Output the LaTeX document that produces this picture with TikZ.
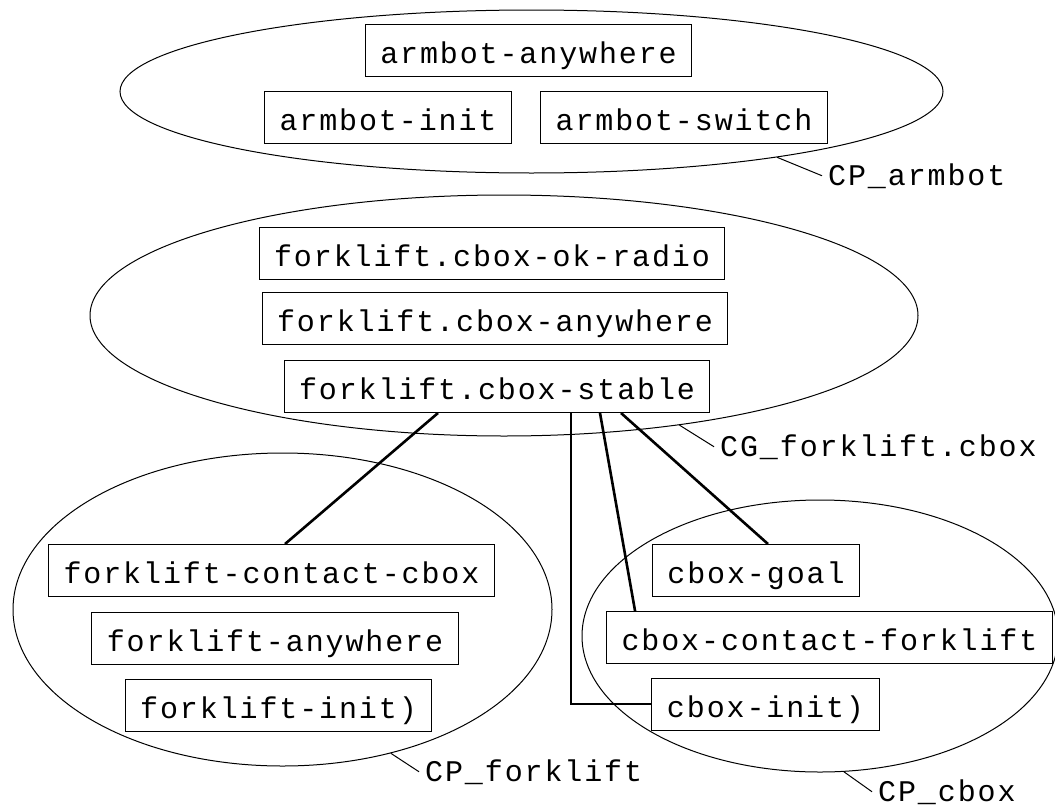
\documentclass[tikz,border=0pt]{standalone}
\usepackage{fontspec}
\usetikzlibrary{shapes.geometric}
\newfontfamily\boxfont[LetterSpace=6.3]{Liberation Mono}

\begin{document}
\begin{tikzpicture}[x=1pt, y=-1pt]
\tikzset{ state/.style={draw, line width=1pt, inner xsep=15pt, inner ysep=0pt,
            minimum height=52pt, text height=26pt, text depth=0pt,
            font=\boxfont\fontsize{30}{36}\selectfont},
          group/.style={draw, ellipse, line width=1pt, inner sep=0pt},
          tag/.style={anchor=base west, inner xsep=6pt, inner ysep=0pt,
            font=\boxfont\fontsize{30}{36}\selectfont},
          link/.style={line width=2.6pt},
          lead/.style={line width=1pt}, }

\useasboundingbox (0,0) rectangle (1055,806);
%\draw [lightgray, dashed] (0,0) grid [step=50] (1055,806);

\node [group, minimum width=823pt, minimum height=163pt] (EA) at (531.5,91.5)  {};
\node [group, minimum width=828pt, minimum height=241pt] (EG) at (504,315.5)   {};
\node [group, minimum width=539pt, minimum height=313pt] (EF) at (282.5,609.5) {};
\node [group, minimum width=476pt, minimum height=272pt] (EC) at (820,636)     {};

\node [state] (AA) at (528.5,50)  {armbot-anywhere};
\node [state] (AI) at (388,117)   {armbot-init};
\node [state] (AS) at (684,117)   {armbot-switch};

\node [state] (OK) at (492,253)   {forklift.cbox-ok-radio};
\node [state] (AW) at (495,318.5) {forklift.cbox-anywhere};
\node [state] (ST) at (497,386.5) {forklift.cbox-stable};

\node [state] (FC) at (271.5,570.5) {forklift-contact-cbox};
\node [state] (FA) at (275,638.5)   {forklift-anywhere};
\node [state] (FI) at (278.5,705.5) {forklift-init)};

\node [state] (GO) at (756,570.5)   {cbox-goal};
\node [state] (CC) at (829.5,637.5) {cbox-contact-forklift};
\node [state] (CI) at (765.5,704)   {cbox-init)};

\node [tag] (LA) at (822,185) {CP\_armbot};
\node [tag] (LG) at (714,456) {CG\_forklift.cbox};
\node [tag] (LF) at (419,781) {CP\_forklift};
\node [tag] (LC) at (872,801) {CP\_cbox};

\draw [lead] (EA.-15) -- (LA.west);
\draw [lead] (EG.-32) -- (LG.west);
\draw [lead] (EF.-53) -- (LF.west);
\draw [lead] (EC.-80) -- (LC.west);

\draw [link] ([xshift=-59pt]ST.south) -- ([xshift=13.5pt]FC.north);
\draw [link] ([xshift=74pt]ST.south)  |- (CI.west);
\draw [link] ([xshift=103pt]ST.south) -- ([xshift=29pt]CC.north west);
\draw [link] ([xshift=124pt]ST.south) -- ([xshift=12pt]GO.north);
\end{tikzpicture}
\end{document}
